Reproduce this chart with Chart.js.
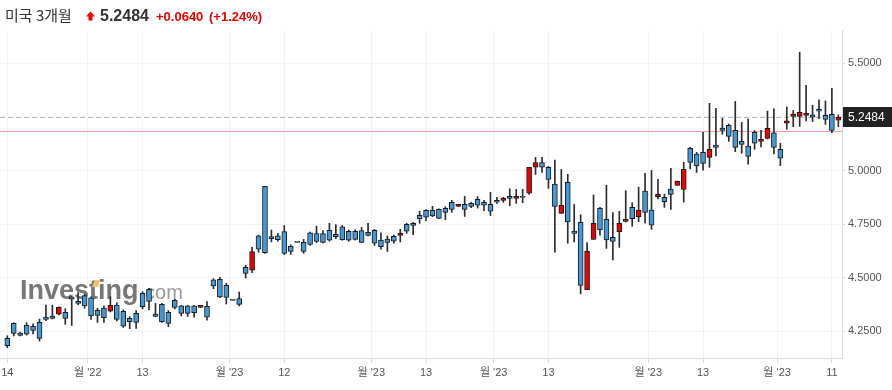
<!DOCTYPE html>
<html><head><meta charset="utf-8">
<script src="https://cdn.jsdelivr.net/npm/chart.js@4.4.1/dist/chart.umd.min.js"></script>
<style>html,body{margin:0;padding:0;background:#fff;}#wrap{width:892px;height:390px;position:relative;}</style>
</head><body><div id="wrap"><canvas id="c" width="892" height="390"></canvas></div>
<script>
const title = '미국 3개월';
const lastPrice = 5.2484;
const prevClose = 5.1844;
const changeText = '+0.0640';
const changePctText = '(+1.24%)';

const open = [4.218,4.288,4.243,4.278,4.274,4.292,4.317,4.322,4.330,4.339,4.411,4.390,4.417,4.407,4.348,4.359,4.345,4.373,4.344,4.311,4.334,4.428,4.446,4.331,4.376,4.339,4.395,4.369,4.369,4.369,4.362,4.367,4.490,4.493,4.465,4.395,4.403,4.549,4.536,4.696,4.926,4.692,4.696,4.715,4.647,4.665,4.665,4.710,4.706,4.706,4.721,4.703,4.738,4.717,4.717,4.720,4.712,4.721,4.676,4.681,4.693,4.698,4.749,4.754,4.791,4.814,4.814,4.819,4.824,4.852,4.833,4.842,4.847,4.866,4.852,4.842,4.861,4.861,4.880,4.870,4.875,4.894,5.015,5.037,5.015,4.937,4.800,4.945,4.718,4.758,4.445,4.679,4.824,4.772,4.689,4.715,4.763,4.828,4.785,4.904,4.816,4.878,4.875,4.914,4.931,4.912,5.103,5.077,5.085,5.061,5.119,5.198,5.210,5.187,5.136,5.114,5.178,5.136,5.150,5.175,5.099,5.220,5.252,5.252,5.257,5.259,5.285,5.257,5.262,5.234];
const high = [4.230,4.291,4.247,4.291,4.285,4.308,4.373,4.372,4.365,4.356,4.412,4.431,4.424,4.411,4.358,4.369,4.412,4.384,4.350,4.319,4.347,4.435,4.451,4.381,4.381,4.347,4.400,4.372,4.372,4.372,4.372,4.389,4.496,4.502,4.474,4.395,4.434,4.558,4.642,4.699,4.926,4.723,4.707,4.744,4.654,4.665,4.679,4.713,4.741,4.720,4.754,4.748,4.744,4.723,4.724,4.735,4.754,4.726,4.710,4.695,4.699,4.726,4.754,4.758,4.810,4.818,4.833,4.821,4.831,4.861,4.842,4.880,4.852,4.878,4.861,4.898,4.875,4.875,4.915,4.912,4.912,5.015,5.061,5.061,5.019,5.049,5.005,4.982,4.842,4.794,4.664,4.886,4.828,4.931,4.804,4.810,4.906,4.850,4.922,4.987,5.000,4.959,4.890,5.010,4.951,5.038,5.108,5.085,5.178,5.313,5.290,5.243,5.217,5.322,5.224,5.240,5.186,5.187,5.277,5.287,5.127,5.296,5.280,5.551,5.397,5.304,5.329,5.324,5.383,5.259];
const low = [4.174,4.229,4.229,4.233,4.238,4.205,4.300,4.308,4.327,4.283,4.278,4.375,4.358,4.306,4.292,4.292,4.341,4.299,4.269,4.263,4.264,4.355,4.350,4.319,4.292,4.272,4.355,4.322,4.320,4.317,4.362,4.302,4.449,4.407,4.378,4.395,4.369,4.499,4.524,4.619,4.614,4.667,4.671,4.608,4.609,4.665,4.614,4.651,4.664,4.662,4.671,4.682,4.675,4.670,4.676,4.664,4.695,4.651,4.633,4.623,4.661,4.667,4.707,4.701,4.754,4.766,4.785,4.776,4.771,4.805,4.833,4.786,4.827,4.825,4.813,4.790,4.847,4.852,4.836,4.847,4.850,4.889,4.982,4.991,4.917,4.619,4.800,4.661,4.667,4.425,4.445,4.679,4.699,4.637,4.583,4.642,4.760,4.740,4.762,4.754,4.726,4.867,4.828,4.819,4.931,4.853,5.007,4.991,5.001,5.015,5.068,5.169,5.136,5.088,5.080,5.029,5.099,5.110,5.147,5.077,5.023,5.192,5.204,5.206,5.231,5.228,5.242,5.215,5.176,5.204];
const close = [4.184,4.241,4.232,4.237,4.255,4.218,4.306,4.311,4.362,4.311,4.400,4.381,4.369,4.322,4.325,4.314,4.372,4.306,4.275,4.296,4.292,4.365,4.390,4.320,4.296,4.288,4.362,4.334,4.334,4.337,4.372,4.317,4.462,4.411,4.409,4.395,4.376,4.521,4.622,4.633,4.617,4.682,4.678,4.614,4.623,4.665,4.623,4.656,4.670,4.665,4.675,4.692,4.678,4.675,4.679,4.665,4.698,4.661,4.645,4.665,4.671,4.707,4.717,4.744,4.776,4.782,4.788,4.777,4.805,4.819,4.842,4.819,4.833,4.838,4.838,4.810,4.852,4.870,4.870,4.880,4.875,5.015,5.037,5.015,4.959,4.833,4.838,4.760,4.707,4.465,4.623,4.754,4.723,4.676,4.670,4.754,4.772,4.776,4.816,4.805,4.745,4.889,4.855,4.889,4.951,5.005,5.038,5.021,5.033,5.099,5.108,5.187,5.159,5.108,5.122,5.066,5.127,5.145,5.196,5.108,5.057,5.231,5.263,5.271,5.266,5.248,5.276,5.238,5.187,5.2484];

const xTickPositions = [0, 12.5, 21, 34.5, 43, 56.5, 65, 75.5, 84, 99.5, 108, 119.5, 128];
const xTickLabels = ['14', "월 '22", '13', "월 '23", '12', "월 '23", '13', "월 '23", '13', "월 '23", '13', "월 '23", '11'];
const yTicks = [4.25, 4.5, 4.75, 5.0, 5.25, 5.5];

const FONT = "'Liberation Sans', Arial, 'Noto Sans CJK KR', sans-serif";
const UP = '#ee0000', DOWN = '#4398d8';
const idx = open.map((_, i) => i);
const bodyData = idx.map(i => ({x: i, y: [open[i], close[i]]}));
const wickData = idx.map(i => ({x: i, y: [low[i], high[i]]}));
const bodyColors = idx.map(i => close[i] > open[i] ? UP : DOWN);

const overlay = {
  id: 'overlay',
  beforeDatasetsDraw(chart) {
    const {ctx, chartArea: a, scales: {y}} = chart;
    ctx.save();
    // watermark
    ctx.textBaseline = 'alphabetic';
    ctx.font = 'bold 27px ' + FONT;
    ctx.fillStyle = '#777777';
    ctx.fillText('Investing', 20, 299);
    const w = ctx.measureText('Investing').width;
    const wt = ctx.measureText('Inves').width;
    ctx.fillStyle = '#f6c46a';
    ctx.beginPath();
    ctx.moveTo(20 + wt + 3, 287); ctx.lineTo(20 + wt + 6, 280); ctx.lineTo(20 + wt + 11, 280); ctx.lineTo(20 + wt + 9, 287);
    ctx.closePath(); ctx.fill();
    ctx.font = '20px ' + FONT;
    ctx.fillStyle = '#999999';
    ctx.fillText('.com', 20 + w + 1, 299);
    // previous close line
    const yp = Math.round(y.getPixelForValue(prevClose)) + 0.5;
    ctx.strokeStyle = '#ff9ea6'; ctx.lineWidth = 1;
    ctx.beginPath(); ctx.moveTo(a.left, yp); ctx.lineTo(a.right, yp); ctx.stroke();
    // last price dashed line
    const yl = Math.round(y.getPixelForValue(lastPrice)) + 0.5;
    ctx.strokeStyle = '#bdbdbd'; ctx.setLineDash([5, 3]);
    ctx.beginPath(); ctx.moveTo(a.left, yl); ctx.lineTo(a.right, yl); ctx.stroke();
    ctx.restore();
  },
  afterDraw(chart) {
    const {ctx, chartArea: a, scales: {y}} = chart;
    ctx.save();
    // price tag
    const yl = y.getPixelForValue(lastPrice);
    ctx.fillStyle = '#222';
    ctx.fillRect(a.right + 1, Math.round(yl) - 10, 892 - a.right - 1, 20);
    ctx.fillStyle = '#fff';
    ctx.font = '12px ' + FONT;
    ctx.textBaseline = 'middle';
    ctx.fillText(lastPrice.toFixed(4), 848, Math.round(yl) + 0.5);
    // header
    ctx.textBaseline = 'alphabetic';
    ctx.font = "15px 'Noto Sans CJK KR', sans-serif";
    ctx.fillStyle = '#333';
    ctx.fillText(title, 5, 21);
    ctx.fillStyle = '#f00000';
    ctx.beginPath();
    ctx.moveTo(86, 16.5); ctx.lineTo(90.5, 11.5); ctx.lineTo(95, 16.5); ctx.lineTo(92.5, 16.5);
    ctx.lineTo(92.5, 20.5); ctx.lineTo(88.5, 20.5); ctx.lineTo(88.5, 16.5); ctx.closePath(); ctx.fill();
    ctx.fillStyle = '#333';
    ctx.font = 'bold 16px ' + FONT;
    ctx.fillText(lastPrice.toFixed(4), 100, 21);
    ctx.fillStyle = '#f00000';
    ctx.font = 'bold 13px ' + FONT;
    ctx.fillText(changeText, 156, 21);
    ctx.fillText(changePctText, 209, 21);
    ctx.restore();
  }
};

new Chart(document.getElementById('c'), {
  type: 'bar',
  data: { datasets: [
    { data: bodyData, backgroundColor: bodyColors, borderColor: '#1b1b1b', borderWidth: 1,
      borderSkipped: false, barThickness: 5, minBarLength: 1, grouped: false, order: 0 },
    { data: wickData, backgroundColor: '#2c2c2c', borderWidth: 0, barThickness: 1,
      grouped: false, order: 1 }
  ]},
  options: {
    responsive: false, animation: false, events: [],
    layout: { padding: { top: 30, left: 0, right: 0, bottom: 0 } },
    plugins: { legend: { display: false }, tooltip: { enabled: false } },
    scales: {
      x: {
        type: 'linear', min: -1.133, max: 129.57, offset: false,
        grid: { offset: false, color: '#f3f3f3', tickColor: '#dcdcdc', tickLength: 5 },
        border: { color: '#dcdcdc' },
        afterBuildTicks: s => { s.ticks = xTickPositions.map(v => ({ value: v })); },
        ticks: { autoSkip: false, maxRotation: 0, padding: 3, color: '#555',
          font: { family: FONT, size: 11 }, callback: (v, i) => xTickLabels[i] },
        afterFit: s => { s.height = 32; s.paddingLeft = 0; s.paddingRight = 0; }
      },
      y: {
        position: 'right', min: 4.1263, max: 5.6547, beginAtZero: false,
        grid: { color: '#f3f3f3', tickColor: '#dcdcdc', tickLength: 3 },
        border: { color: '#dcdcdc' },
        afterBuildTicks: s => { s.ticks = yTicks.map(v => ({ value: v })); },
        ticks: { padding: 3, color: '#555', font: { family: FONT, size: 11 },
          callback: v => Math.abs(v - lastPrice) < 0.05 ? '' : v.toFixed(4) },
        afterFit: s => { s.width = 50; s.paddingTop = 0; s.paddingBottom = 0; }
      }
    }
  },
  plugins: [overlay]
});
</script></body></html>
